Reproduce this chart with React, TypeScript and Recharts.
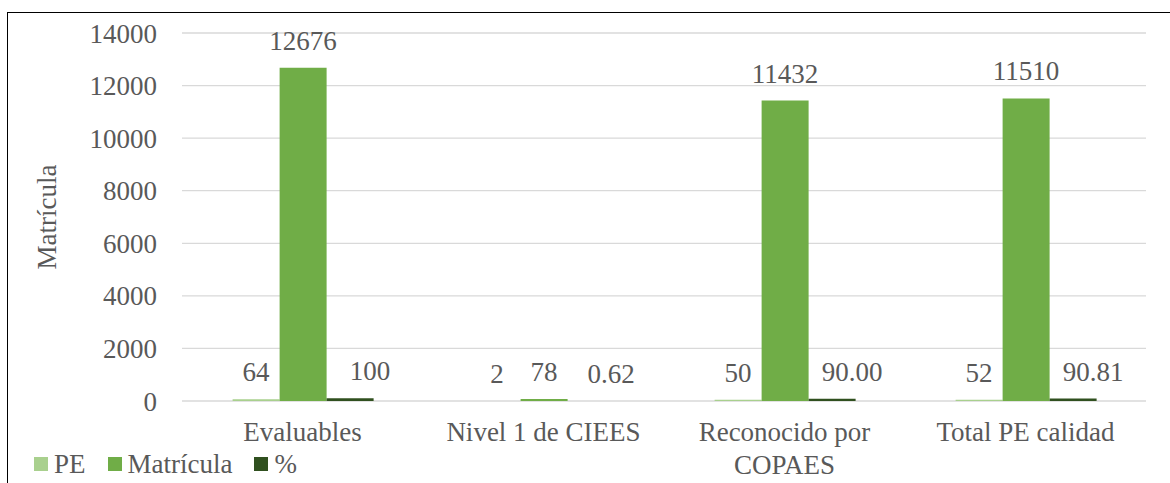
import React from 'react';
import { BarChart, Bar, XAxis, YAxis, CartesianGrid, Legend, LabelList } from 'recharts';

const categories = ['Evaluables', 'Nivel 1 de CIEES', 'Reconocido por COPAES', 'Total PE calidad'];
const peValues = [64, 2, 50, 52];
const matriculaValues = [12676, 78, 11432, 11510];
const pctValues = [100, 0.62, 90.0, 90.81];
const pctLabels = ['100', '0.62', '90.00', '90.81'];
const yTicks = [0, 2000, 4000, 6000, 8000, 10000, 12000, 14000];
const seriesNames = ['PE', 'Matrícula', '%'];

const COLORS = ['#a9d08e', '#70ad47', '#30501f'];
const FONT = '"Liberation Serif", monospace';
const TEXT = '#595959';
const FS = 27;
const MAX_LINE_CHARS = 18;

const data = categories.map((c, i) => ({
  name: c,
  pe: peValues[i],
  matricula: matriculaValues[i],
  pct: pctValues[i],
}));

const textStyle = { fontFamily: FONT, fontSize: FS, fill: TEXT } as any;

const wrapWords = (s: string): string[] => {
  if (s.length <= MAX_LINE_CHARS) return [s];
  const words = s.split(' ');
  const lines: string[] = [];
  let cur = '';
  words.forEach((w) => {
    const next = cur ? cur + ' ' + w : w;
    if (next.length > 16 && cur) {
      lines.push(cur);
      cur = w;
    } else {
      cur = next;
    }
  });
  if (cur) lines.push(cur);
  return lines;
};

const makeLabel = (shift: number, getText: (i: number, v: any) => string) => (props: any) => {
  const { x, y, width, index, value } = props;
  return (
    <text
      x={Number(x) + Number(width) / 2 + shift}
      y={Number(y) - 18}
      textAnchor="middle"
      style={textStyle}
    >
      {getText(index, value)}
    </text>
  );
};

const XTick = (props: any) => {
  const { x, y, payload } = props;
  const lines = wrapWords(String(payload.value));
  return (
    <text x={x} y={y} textAnchor="middle" style={textStyle}>
      {lines.map((l, i) => (
        <tspan key={i} x={x} dy={i === 0 ? '0.71em' : 33}>
          {l}
        </tspan>
      ))}
    </text>
  );
};

const YTick = (props: any) => {
  const { x, y, payload } = props;
  return (
    <text x={x} y={y} dy="0.355em" textAnchor="end" style={textStyle}>
      {payload.value}
    </text>
  );
};

const YLabel = (props: any) => {
  const vb = props.viewBox || { x: 0, y: 33, width: 182, height: 368 };
  const cx = 47;
  const cy = vb.y + vb.height / 2;
  return (
    <text
      x={cx}
      y={cy}
      transform={`rotate(-90, ${cx}, ${cy})`}
      textAnchor="middle"
      dominantBaseline="central"
      style={textStyle}
    >
      Matrícula
    </text>
  );
};

const LegendContent = () => (
  <div style={{ display: 'flex', alignItems: 'center', height: 24, fontFamily: FONT, fontSize: FS, color: TEXT }}>
    {seriesNames.map((n, i) => (
      <div key={n} style={{ display: 'flex', alignItems: 'center', marginRight: 22 }}>
        <span style={{ display: 'inline-block', width: 14, height: 14, background: COLORS[i], marginRight: 6 }} />
        <span style={{ lineHeight: '24px', fontFamily: FONT }}>{n}</span>
      </div>
    ))}
  </div>
);

export default function App() {
  return (
    <div style={{ position: 'absolute', left: 0, top: 0, width: 1170, height: 483, background: '#fff', overflow: 'hidden', fontFamily: FONT }}>
      <div
        style={{
          position: 'absolute',
          left: 7,
          top: 12,
          width: 1300,
          height: 600,
          borderTop: '1.5px solid #000',
          borderLeft: '1.5px solid #000',
        }}
      />
      <div style={{ position: 'absolute', left: 0, top: 0 }}>
        <BarChart
          width={1170}
          height={483}
          data={data}
          margin={{ top: 33, right: 24, left: 0, bottom: 18 }}
          barCategoryGap="21%"
          barGap={0}
          style={{ fontFamily: FONT }}
        >
          <CartesianGrid vertical={false} stroke="#d9d9d9" strokeWidth={1.3} />
          <XAxis
            dataKey="name"
            height={40}
            axisLine={false}
            tickLine={false}
            tickSize={6}
            tickMargin={15}
            interval={0}
            tick={(p: any) => <XTick {...p} />}
          />
          <YAxis
            width={182}
            domain={[0, 14000]}
            ticks={yTicks}
            axisLine={false}
            tickLine={false}
            tickSize={6}
            tickMargin={19}
            tick={(p: any) => <YTick {...p} />}
            label={<YLabel />}
          />
          <Legend
            verticalAlign="bottom"
            align="left"
            content={<LegendContent />}
            wrapperStyle={{ position: 'absolute', left: 34, top: 452, width: 'auto', height: 24 }}
          />
          <Bar dataKey="pe" name="PE" fill={COLORS[0]} isAnimationActive={false}>
            <LabelList dataKey="pe" content={makeLabel(0, (i, v) => String(v))} />
          </Bar>
          <Bar dataKey="matricula" name="Matrícula" fill={COLORS[1]} isAnimationActive={false}>
            <LabelList dataKey="matricula" content={makeLabel(0, (i, v) => String(v))} />
          </Bar>
          <Bar dataKey="pct" name="%" fill={COLORS[2]} isAnimationActive={false}>
            <LabelList dataKey="pct" content={makeLabel(20, (i) => pctLabels[i])} />
          </Bar>
        </BarChart>
      </div>
    </div>
  );
}
